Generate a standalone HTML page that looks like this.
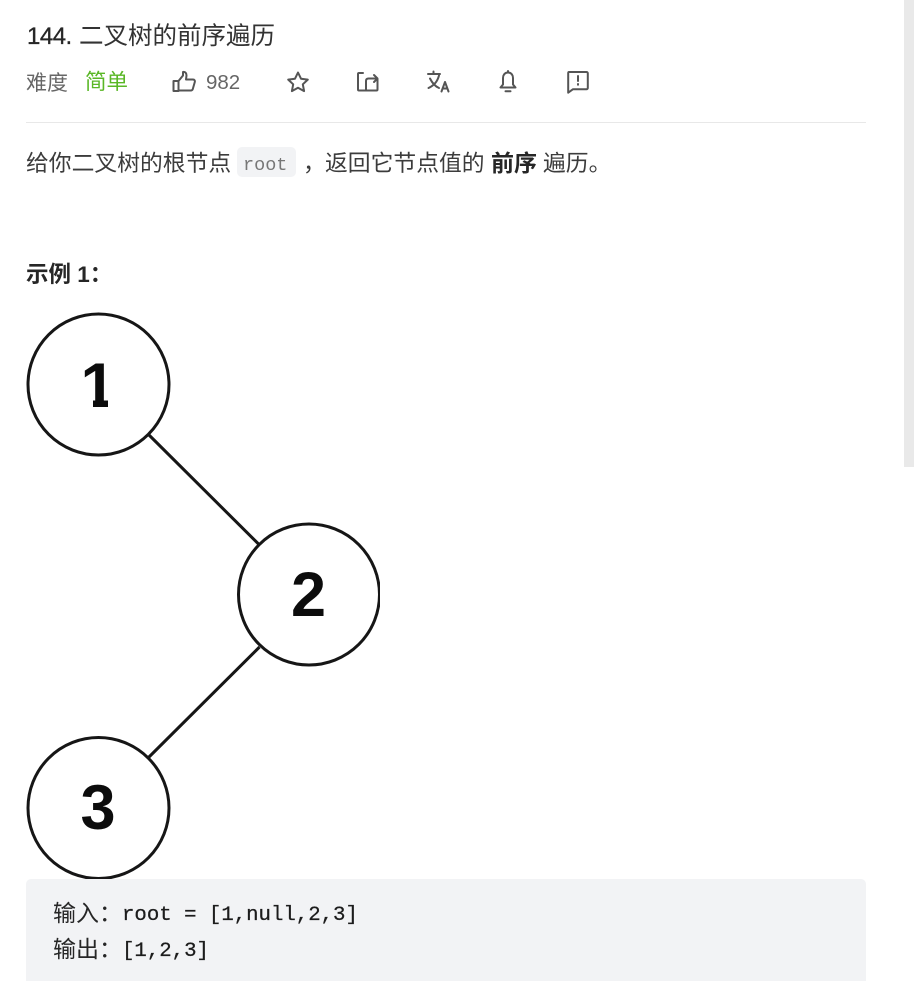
<!DOCTYPE html>
<html lang="zh">
<head>
<meta charset="utf-8">
<style>
html,body{margin:0;padding:0;background:#fff;width:914px;height:981px;overflow:hidden}
body{position:relative;font-family:"Liberation Sans","Noto Sans CJK SC",sans-serif;color:#262626}
.t{position:absolute;white-space:nowrap;line-height:1}
svg{position:absolute;overflow:visible}
.m{font-family:'Liberation Mono',monospace;font-size:20.700px;color:#1c1c1c;-webkit-text-stroke:.25px #1c1c1c}
.c{font-size:23px;color:#262626}
</style>
</head>
<body>
<div class="t" style="left:27px;top:25px;font-size:24px;letter-spacing:-.5px;color:#262626;-webkit-text-stroke:.3px #262626">144.</div>
<div class="t" style="left:79px;top:25px;font-size:24.500px;color:#333">二叉树的前序遍历</div>
<div class="t" style="left:26px;top:73px;font-size:21px;color:#666">难度</div>
<div class="t" style="left:85px;top:72px;font-size:21.500px;color:#5ab726">简单</div>
<div class="t" style="left:206px;top:73px;font-size:20.500px;color:#666">982</div>

<svg style="left:0;top:0" width="914" height="110" fill="none" stroke="#555" stroke-width="2" stroke-linejoin="round" stroke-linecap="round">
<path d="M173.500 81h5v10h-5zM178.500 81l4.500-5.500v-3.500c2.500-.5 3.500 1.500 3.500 3.500l-.5 4h7c1.500 0 2.200 1.200 1.800 2.500l-2 7c-.3 1-1 1.500-2 1.500h-12.300"/>
<path d="M298 72.500l3 6.200 6.800.9-5 4.700 1.300 6.800-6.100-3.300-6.100 3.300 1.300-6.800-5-4.700 6.800-.9z"/>
<path d="M363 73h-4c-.7 0-1 .4-1 1v15.500c0 .7.300 1 1 1h17.500c.7 0 1-.3 1-1V79M366 90v-9c0-1.500.7-2.500 2.500-2.500h8M374 75l3.500 3.500-3.500 3.500"/>
<path d="M428 74h12M433.500 71.500v2.500M430 78.500c2.500 5 5.500 8 9 9.500M439 75.500c-1.500 6-5 10-10.500 12.500"/>
<path d="M441.500 91.500l3.500-9.500 3.500 9.500M442.700 88.500h4.600"/>
<path d="M508 72.500c-3.500 0-5 2.800-5 5.500v6.500l-2.500 3h15l-2.500-3V78c0-2.700-1.500-5.500-5-5.500zM505.500 91.300h5M508 71v1.500"/>
<path d="M569 72h17.500c.7 0 1.300.5 1.300 1.200V88c0 .7-.6 1.200-1.300 1.200h-13.500l-4.800 3.500V73.200c0-.7.100-1.200.8-1.200zM578 76v5M578 84v.8"/>
</svg>

<div style="position:absolute;left:26px;top:122px;width:840px;height:1px;background:#e8e8e8"></div>

<div class="t" style="left:26px;top:152px;font-size:22.800px;color:#3c3c3c">给你二叉树的根节点</div>
<div style="position:absolute;left:237px;top:147px;width:59px;height:30px;border-radius:5px;background:#f2f3f5"></div>
<div class="t" style="left:243px;top:157px;font-size:18.500px;color:#777;font-family:'Liberation Mono',monospace">root</div>
<div class="t" style="left:303px;top:152px;font-size:22.800px;color:#3c3c3c">，</div>
<div class="t" style="left:325px;top:152px;font-size:22.800px;color:#3c3c3c">返回它节点值的</div>
<div class="t" style="left:491px;top:152px;font-size:23px;font-weight:bold;color:#262626">前序</div>
<div class="t" style="left:543px;top:152px;font-size:22.800px;color:#3c3c3c">遍历。</div>

<div class="t" style="left:26px;top:264px;font-size:22.500px;font-weight:bold;color:#262626">示例 1：</div>

<svg style="left:0;top:0" width="914" height="981">
<defs>
<clipPath id="c"><rect x="0" y="300" width="380" height="581"/></clipPath>
<clipPath id="one"><path d="M60 340H130V400H108V420H93V400H60z"/></clipPath>
</defs>
<g clip-path="url(#c)" fill="#fff" stroke="#161616" stroke-width="3">
<line x1="148" y1="434" x2="259.500" y2="545"/>
<line x1="259.500" y1="647" x2="148" y2="758"/>
<circle cx="98.500" cy="384.500" r="70.500"/>
<circle cx="309" cy="594.500" r="70.500"/>
<circle cx="98.500" cy="808" r="70.500"/>
</g>
<g font-family="Liberation Sans, sans-serif" font-weight="bold" font-size="63" fill="#0c0c0c" text-anchor="middle">
<g clip-path="url(#one)"><text x="98" y="407">1</text></g>
<text x="308.500" y="616">2</text>
<text x="98" y="829">3</text>
</g>
</svg>

<div style="position:absolute;left:26px;top:879px;width:840px;height:102px;background:#f2f3f5;border-radius:5px 5px 0 0"></div>
<div class="t c" style="left:53px;top:902px">输入：</div>
<div class="t m" style="left:122px;top:906px">root = [1,null,2,3]</div>
<div class="t c" style="left:53px;top:938px">输出：</div>
<div class="t m" style="left:122px;top:942px">[1,2,3]</div>

<div style="position:absolute;left:904px;top:0;width:10px;height:467px;background:#e9e9e9"></div>
</body>
</html>
